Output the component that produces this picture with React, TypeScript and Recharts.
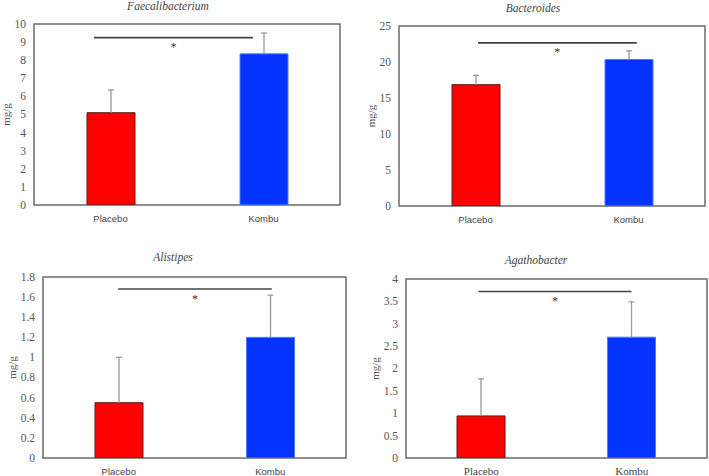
import {
  BarChart,
  Bar,
  Cell,
  XAxis,
  YAxis,
  ReferenceArea,
  ReferenceLine,
} from "recharts";

const groups = ["Placebo", "Kombu"];

// mean mg/g and upper SD for each genus, Placebo then Kombu
const faecaliMeans = [5.1, 8.35];
const faecaliSd = [1.25, 1.15];
const bacteroidesMeans = [16.85, 20.35];
const bacteroidesSd = [1.3, 1.2];
const alistipesMeans = [0.55, 1.2];
const alistipesSd = [0.45, 0.42];
const agathoMeans = [0.94, 2.7];
const agathoSd = [0.83, 0.79];

const faecaliTicks = [0, 1, 2, 3, 4, 5, 6, 7, 8, 9, 10];
const bacteroidesTicks = [0, 5, 10, 15, 20, 25];
const alistipesTicks = [0, 0.2, 0.4, 0.6, 0.8, 1, 1.2, 1.4, 1.6, 1.8];
const agathoTicks = [0, 0.5, 1, 1.5, 2, 2.5, 3, 3.5, 4];

// significance bracket: height on the y scale, span as fraction of plot width
const faecaliSig = { y: 9.25, from: 0.196, to: 0.716 };
const bacteroidesSig = { y: 22.65, from: 0.258, to: 0.777 };
const alistipesSig = { y: 1.68, from: 0.248, to: 0.755 };
const agathoSig = { y: 3.72, from: 0.241, to: 0.749 };

const barFills = ["#ff0000", "#0433ff"];
const barStrokes = ["#5a1a1a", "#4f7bff"];

const SERIF = "Liberation Serif";
const SANS = "Liberation Sans";

function YTick({ x, y, payload }: any) {
  return (
    <text
      x={x}
      y={y}
      dy="0.34em"
      textAnchor="end"
      style={{ fontFamily: SERIF, fontSize: 11.5, fill: "#555" }}
    >
      {payload.value}
    </text>
  );
}

function makeXTick(serif: boolean) {
  return function XTick({ x, y, payload }: any) {
    return (
      <text
        x={x}
        y={y}
        dy={serif ? 9.3 : 8.5}
        textAnchor="middle"
        style={{
          fontFamily: serif ? SERIF : SANS,
          fontSize: serif ? 11 : 9.5,
          fill: "#444",
        }}
      >
        {payload.value}
      </text>
    );
  };
}

// upper SD whisker: stacked on top of the mean bar, drawn as a T
function Whisker({ x, y, width, height }: any) {
  const cx = x + width / 2;
  return (
    <g stroke="#9a9a9a" strokeWidth={1.3}>
      <line x1={cx} x2={cx} y1={y} y2={y + height} />
      <line x1={cx - 3} x2={cx + 3} y1={y} y2={y} />
    </g>
  );
}

interface PanelProps {
  title: string;
  means: number[];
  sds: number[];
  ticks: number[];
  sig: { y: number; from: number; to: number };
  left: number;
  top: number;
  width: number;
  margin: { top: number; right: number; bottom: number; left: number };
  yWidth: number;
  yLabelOffset: number;
  titleX: number;
  titleTop: number;
  serifCategories?: boolean;
}

function Panel({
  title,
  means,
  sds,
  ticks,
  sig,
  left,
  top,
  width,
  margin,
  yWidth,
  yLabelOffset,
  titleX,
  titleTop,
  serifCategories = false,
}: PanelProps) {
  const data = groups.map((g, i) => ({
    group: g,
    mean: means[i],
    sd: sds[i],
  }));
  const yMax = ticks[ticks.length - 1];

  return (
    <div style={{ position: "absolute", left, top, width, height: 238 }}>
      <div
        style={{
          position: "absolute",
          left: titleX - left - 100,
          top: titleTop - top,
          width: 200,
          textAlign: "center",
          fontFamily: SERIF,
          fontStyle: "italic",
          fontSize: 11.5,
          lineHeight: "12px",
          color: "#444",
        }}
      >
        {title}
      </div>
      <BarChart width={width} height={238} data={data} margin={margin}>
        <XAxis
          dataKey="group"
          height={18}
          axisLine={false}
          tickLine={false}
          tick={makeXTick(serifCategories)}
        />
        <XAxis xAxisId="pos" type="number" domain={[0, 1]} hide />
        <YAxis
          width={yWidth}
          domain={[0, yMax]}
          ticks={ticks}
          interval={0}
          allowDataOverflow
          axisLine={false}
          tickLine={false}
          tick={<YTick />}
          label={{
            value: "mg/g",
            angle: -90,
            position: "insideLeft",
            offset: yLabelOffset,
            style: {
              textAnchor: "middle",
              fontFamily: SERIF,
              fontSize: 11,
              fill: "#555",
            },
          }}
        />
        <Bar
          dataKey="mean"
          stackId="m"
          barSize={48}
          isAnimationActive={false}
        >
          {data.map((d, i) => (
            <Cell
              key={d.group}
              fill={barFills[i]}
              stroke={barStrokes[i]}
              strokeWidth={1}
            />
          ))}
        </Bar>
        <Bar
          dataKey="sd"
          stackId="m"
          barSize={48}
          shape={<Whisker />}
          isAnimationActive={false}
        />
        <ReferenceArea
          y1={0}
          y2={yMax}
          fill="none"
          fillOpacity={0}
          stroke="#6b6b6b"
          strokeWidth={1.5}
        />
        <ReferenceLine
          xAxisId="pos"
          segment={[
            { x: sig.from, y: sig.y },
            { x: sig.to, y: sig.y },
          ]}
          stroke="#444"
          strokeWidth={1.6}
          label={{
            value: "*",
            position: "bottom",
            offset: 5,
            style: { fontFamily: SERIF, fontSize: 12, fill: "#333" },
          }}
        />
      </BarChart>
    </div>
  );
}

export default function App() {
  return (
    <div
      style={{
        position: "absolute",
        left: 0,
        top: 0,
        width: 709,
        height: 476,
        background: "#fff",
      }}
    >
      <Panel
        title="Faecalibacterium"
        means={faecaliMeans}
        sds={faecaliSd}
        ticks={faecaliTicks}
        sig={faecaliSig}
        left={0}
        top={0}
        width={354}
        margin={{ top: 24, right: 14, bottom: 15, left: 0 }}
        yWidth={34}
        yLabelOffset={6}
        titleX={168}
        titleTop={0}
      />
      <Panel
        title="Bacteroides"
        means={bacteroidesMeans}
        sds={bacteroidesSd}
        ticks={bacteroidesTicks}
        sig={bacteroidesSig}
        left={354}
        top={0}
        width={355}
        margin={{ top: 26, right: 4, bottom: 14, left: 0 }}
        yWidth={45}
        yLabelOffset={17}
        titleX={533}
        titleTop={2}
      />
      <Panel
        title="Alistipes"
        means={alistipesMeans}
        sds={alistipesSd}
        ticks={alistipesTicks}
        sig={alistipesSig}
        left={0}
        top={238}
        width={354}
        margin={{ top: 39, right: 8, bottom: 0, left: 0 }}
        yWidth={43}
        yLabelOffset={12}
        titleX={173}
        titleTop={251}
      />
      <Panel
        title="Agathobacter"
        means={agathoMeans}
        sds={agathoSd}
        ticks={agathoTicks}
        sig={agathoSig}
        left={354}
        top={238}
        width={355}
        margin={{ top: 41, right: 2, bottom: 0, left: 0 }}
        yWidth={52}
        yLabelOffset={21}
        titleX={536}
        titleTop={254}
        serifCategories
      />
    </div>
  );
}
